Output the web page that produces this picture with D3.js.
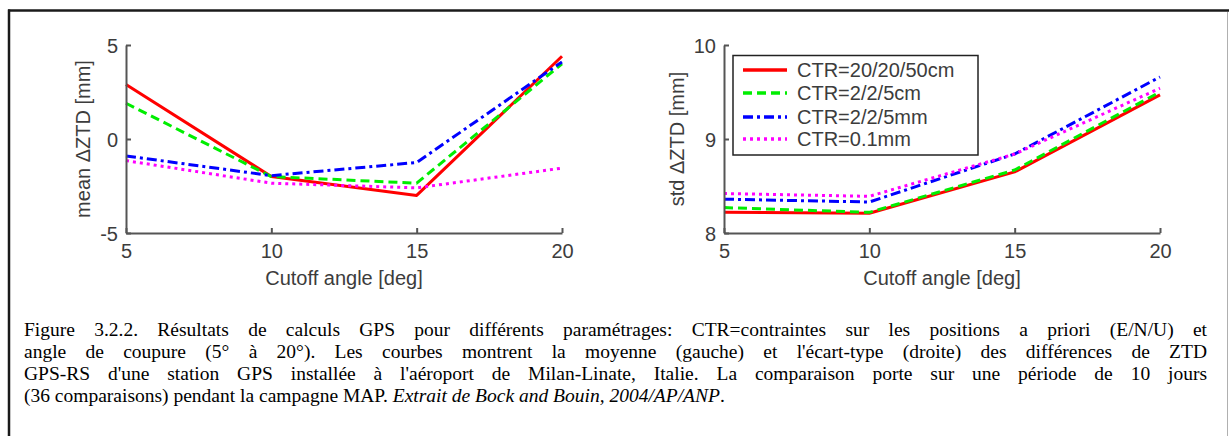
<!DOCTYPE html>
<html><head><meta charset="utf-8">
<script src="https://cdn.jsdelivr.net/npm/d3@7"></script>
<style>
html,body{margin:0;padding:0;background:#fff;}
svg{display:block;}
</style>
</head><body>
<script>
// ---- data ----
const angles = [5, 10, 15, 20];
const xTicks = [5, 10, 15, 20];
const seriesNames = ["CTR=20/20/50cm", "CTR=2/2/5cm", "CTR=2/2/5mm", "CTR=0.1mm"];
const meanRed     = [2.9, -2.0, -3.0, 4.4];
const meanGreen   = [1.9, -2.0, -2.35, 4.0];
const meanBlue    = [-0.9, -1.95, -1.25, 4.1];
const meanMagenta = [-1.15, -2.35, -2.6, -1.55];
const stdRed      = [8.22, 8.21, 8.65, 9.47];
const stdGreen    = [8.27, 8.22, 8.67, 9.50];
const stdBlue     = [8.36, 8.33, 8.84, 9.66];
const stdMagenta  = [8.42, 8.39, 8.84, 9.54];
const meanTicks = [-5, 0, 5];
const stdTicks = [8, 9, 10];
const captionLines = [
  "Figure 3.2.2. Résultats de calculs GPS pour différents paramétrages: CTR=contraintes sur les positions a priori (E/N/U) et",
  "angle de coupure (5° à 20°). Les courbes montrent la moyenne (gauche) et l'écart-type (droite) des différences de ZTD",
  "GPS-RS d'une station GPS installée à l'aéroport de Milan-Linate, Italie. La comparaison porte sur une période de 10 jours"
];
const captionLast = ["(36 comparaisons) pendant la campagne MAP. ", "Extrait de Bock and Bouin, 2004/AP/ANP", "."];

// ---- styles ----
const styles = [
  {color: "#ff0000", dash: null},
  {color: "#00ee00", dash: "9,5"},
  {color: "#0000ff", dash: "10,4,3,4"},
  {color: "#ff00ff", dash: "3,4"}
];

const W = 1229, H = 436;
const svg = d3.select("body").append("svg").attr("width", W).attr("height", H);

// frame
svg.append("line").attr("x1", 8).attr("x2", W).attr("y1", 10.5).attr("y2", 10.5).attr("stroke", "#1a1a1a").attr("stroke-width", 2.5);
svg.append("line").attr("x1", 9).attr("x2", 9).attr("y1", 9.5).attr("y2", H).attr("stroke", "#1a1a1a").attr("stroke-width", 2.5);
svg.append("line").attr("x1", 1227.5).attr("x2", 1227.5).attr("y1", 12).attr("y2", H).attr("stroke", "#b0b0b0").attr("stroke-width", 1);

const font = "'Liberation Sans', Arial, sans-serif";
const axisColor = "#555";
const textColor = "#3c3c3c";
const fmt = d => String(d);

function panel(x0, x1, yDomain, yTicks, data, ylab, ylabX, legend) {
  const x = d3.scaleLinear().domain([5, 20]).range([x0, x1]);
  const y = d3.scaleLinear().domain(yDomain).range([233, 45]);
  const g = svg.append("g");

  const line = d3.line().x((d, i) => x(angles[i])).y(d => y(d));
  data.forEach((vals, k) => {
    g.append("path").datum(vals).attr("d", line)
      .attr("fill", "none").attr("stroke", styles[k].color).attr("stroke-width", 3)
      .attr("stroke-dasharray", styles[k].dash).attr("stroke-linejoin", "round");
  });

  // axes (inward ticks)
  const xa = g.append("g").attr("transform", `translate(0,233)`)
    .call(d3.axisBottom(x).tickValues(xTicks).tickFormat(fmt).tickSizeInner(-5).tickSizeOuter(0).tickPadding(10));
  const ya = g.append("g").attr("transform", `translate(${x0},0)`)
    .call(d3.axisLeft(y).tickValues(yTicks).tickFormat(fmt).tickSizeInner(-5).tickSizeOuter(0).tickPadding(8));
  [xa, ya].forEach(a => {
    a.select(".domain").attr("stroke", axisColor).attr("stroke-width", 2);
    a.selectAll(".tick line").attr("stroke", axisColor).attr("stroke-width", 2);
    a.selectAll("text").attr("fill", textColor).style("font-family", font).style("font-size", "20px");
  });
  xa.selectAll("text").attr("dy", null).attr("y", 24.5);
  ya.selectAll("text").attr("x", -8).attr("dy", "0.36em");

  g.append("text").attr("x", (x0 + x1) / 2).attr("y", 285).attr("text-anchor", "middle")
    .attr("fill", textColor).style("font-family", font).style("font-size", "20px")
    .text("Cutoff angle [deg]");
  g.append("text").attr("transform", `translate(${ylabX},139) rotate(-90)`).attr("text-anchor", "middle")
    .attr("fill", textColor).style("font-family", font).style("font-size", "20px")
    .text(ylab);

  if (legend) {
    const lg = g.append("g");
    lg.append("rect").attr("x", 733).attr("y", 55.5).attr("width", 245).attr("height", 99.5)
      .attr("fill", "#fff").attr("stroke", "#222").attr("stroke-width", 1.5);
    const rows = [70, 93, 117, 139];
    seriesNames.forEach((name, k) => {
      lg.append("line").attr("x1", 743).attr("x2", 787).attr("y1", rows[k]).attr("y2", rows[k])
        .attr("stroke", styles[k].color).attr("stroke-width", 3.5).attr("stroke-dasharray", styles[k].dash);
      lg.append("text").attr("x", 797).attr("y", rows[k]).attr("dy", "0.36em")
        .attr("fill", textColor).style("font-family", font).style("font-size", "20px").text(name);
    });
  }
}

panel(126, 562, [-5, 5], meanTicks, [meanRed, meanGreen, meanBlue, meanMagenta], "mean \u0394ZTD [mm]", 90, false);
panel(724, 1160, [8, 10], stdTicks, [stdRed, stdGreen, stdBlue, stdMagenta], "std \u0394ZTD [mm]", 684, true);

// caption (justified)
const capX = 24, capRight = 1207, capFont = "'Liberation Serif', 'Times New Roman', serif";
const capSize = "19.5px";
const baselines = [336, 358, 380, 402];
captionLines.forEach((txt, i) => {
  const t = svg.append("text").attr("x", capX).attr("y", baselines[i])
    .style("font-family", capFont).style("font-size", capSize).attr("fill", "#000").text(txt);
  const natural = t.node().getComputedTextLength();
  const nSpaces = (txt.match(/ /g) || []).length;
  const ws = (capRight - capX - natural) / nSpaces;
  if (ws >= -1.5) t.style("word-spacing", ws + "px");
  else t.attr("textLength", capRight - capX).attr("lengthAdjust", "spacingAndGlyphs");
});
const t4 = svg.append("text").attr("x", capX).attr("y", baselines[3])
  .style("font-family", capFont).style("font-size", capSize).attr("fill", "#000");
t4.append("tspan").text(captionLast[0]);
t4.append("tspan").style("font-style", "italic").text(captionLast[1]);
t4.append("tspan").text(captionLast[2]);
</script>
</body></html>
